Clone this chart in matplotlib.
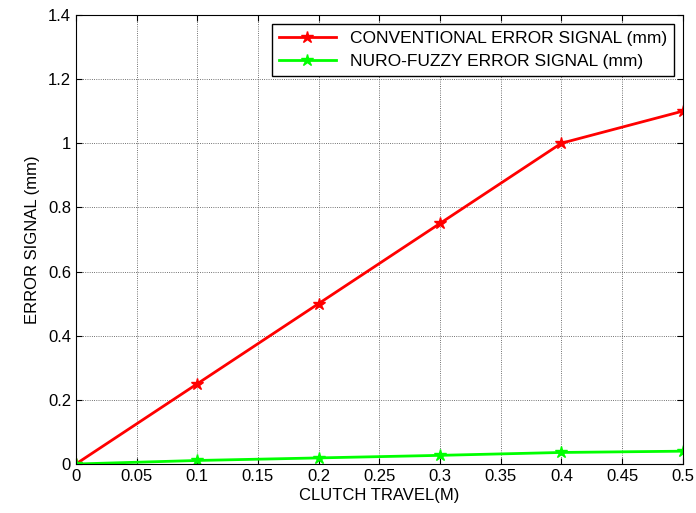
import matplotlib
matplotlib.use("Agg")
import matplotlib.pyplot as plt
import numpy as np

travel = [0, 0.1, 0.2, 0.3, 0.4, 0.5]
conventional = [0, 0.25, 0.5, 0.75, 1.0, 1.1]
nuro_fuzzy = [0, 0.011, 0.019, 0.027, 0.036, 0.04]

plt.rcParams['font.family'] = ['Liberation Sans', 'DejaVu Sans']


def main():
    fig = plt.figure(figsize=(6.96, 5.13), dpi=100)
    ax = fig.add_axes([0.109, 0.0955, 0.872, 0.8755])
    ax.plot(travel, conventional, color='red', lw=2, marker='*', ms=9,
            label='CONVENTIONAL ERROR SIGNAL (mm)')
    ax.plot(travel, nuro_fuzzy, color='#00ff00', lw=2, marker='*', ms=9,
            label='NURO-FUZZY ERROR SIGNAL (mm)')
    ax.set_xlim(0, 0.5)
    ax.set_ylim(0, 1.4)
    ax.set_xticks(np.arange(0, 0.501, 0.05))
    ax.set_xticklabels(['0', '0.05', '0.1', '0.15', '0.2', '0.25', '0.3',
                        '0.35', '0.4', '0.45', '0.5'])
    ax.set_yticks(np.arange(0, 1.41, 0.2))
    ax.set_yticklabels(['0', '0.2', '0.4', '0.6', '0.8', '1', '1.2', '1.4'])
    ax.tick_params(direction='in', top=True, right=True, labelsize=12, length=4)
    ax.grid(True, color='#444444', linestyle=':', linewidth=0.6)
    ax.set_xlabel('CLUTCH TRAVEL(M)', fontsize=12, labelpad=3)
    ax.set_ylabel('ERROR SIGNAL (mm)', fontsize=12, labelpad=6)
    leg = ax.legend(loc='upper right', fontsize=12.5, fancybox=False,
                    framealpha=1, edgecolor='black', borderaxespad=0.5,
                    handlelength=3.3, labelspacing=0.45)
    leg.get_frame().set_linewidth(1.0)
    fig.savefig('out.png', dpi=100)


if __name__ == "__main__":
    main()
